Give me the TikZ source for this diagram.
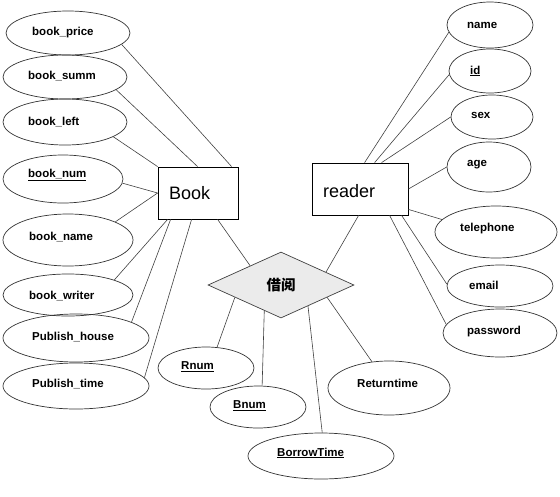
\documentclass[tikz,border=0pt]{standalone}
\usepackage{fontspec}
\setmainfont{Liberation Sans}
\newfontfamily\cjk{Noto Sans CJK SC}
\usetikzlibrary{shapes.geometric}
\tikzset{
  attr/.style={ellipse, draw=black!80, line width=0.7pt, inner sep=0pt},
  ent/.style={rectangle, draw=black, line width=0.8pt, inner sep=0pt},
  rel/.style={diamond, draw=black!75, fill=black!8, line width=0.7pt, inner sep=0pt},
  lbl/.style={anchor=west, inner sep=0pt, font=\fontsize{11.5}{13}\selectfont\bfseries},
  big/.style={anchor=west, inner sep=0pt, font=\fontsize{18}{20}\selectfont},
  conn/.style={draw=black!75, line width=0.6pt}
}
\begin{document}
\begin{tikzpicture}[x=1pt,y=-1pt]
\useasboundingbox (0,0) rectangle (560,496);
% entities
\node[ent, minimum width=80pt, minimum height=52pt] (book) at (198,193) {};
\node[big] (tbook) at (169,193) {Book};
\node[ent, minimum width=96pt, minimum height=52pt] (reader) at (360,189) {};
\node[big] (treader) at (323,191) {reader};
% relation
\node[rel, minimum width=146pt, minimum height=66pt] (dia) at (281,285) {\cjk\bfseries\fontsize{14.5}{16}\selectfont 借阅};
% Book attributes
\node[attr, minimum width=124pt, minimum height=44pt] (eprice) at (68,33) {};
\node[lbl] (tprice) at (32,33) {book\_price};
\node[attr, minimum width=124pt, minimum height=44pt] (esumm) at (65,77) {};
\node[lbl] (tsumm) at (28,76) {book\_summ};
\node[attr, minimum width=124pt, minimum height=46pt] (eleft) at (65,122) {};
\node[lbl] (tleft) at (28,122) {book\_left};
\node[attr, minimum width=120pt, minimum height=48pt] (enum) at (63,179) {};
\node[lbl] (tnum) at (28,175) {\underline{book\_num}};
\node[attr, minimum width=130pt, minimum height=52pt] (ename) at (68,240) {};
\node[lbl] (tname) at (29,237) {book\_name};
\node[attr, minimum width=130pt, minimum height=42pt] (ewriter) at (68,295) {};
\node[lbl] (twriter) at (29,296) {book\_writer};
\node[attr, minimum width=146pt, minimum height=48pt] (ehouse) at (76,338) {};
\node[lbl] (thouse) at (32,337) {Publish\_house};
\node[attr, minimum width=146pt, minimum height=46pt] (etime) at (76,386) {};
\node[lbl] (ttime) at (32,384) {Publish\_time};
% relation attributes
\node[attr, minimum width=96pt, minimum height=42pt] (ernum) at (206,368) {};
\node[lbl] (trnum) at (181,367) {\underline{Rnum}};
\node[attr, minimum width=96pt, minimum height=42pt] (ebnum) at (258,407) {};
\node[lbl] (tbnum) at (233,406) {\underline{Bnum}};
\node[attr, minimum width=146pt, minimum height=46pt] (eborrow) at (321,456) {};
\node[lbl] (tborrow) at (277,453) {\underline{BorrowTime}};
\node[attr, minimum width=122pt, minimum height=54pt] (ereturn) at (389,388) {};
\node[lbl] (treturn) at (357,383) {Returntime};
% reader attributes
\node[attr, minimum width=86pt, minimum height=46pt] (ername) at (490,25) {};
\node[lbl] (trname) at (467,25) {name};
\node[attr, minimum width=82pt, minimum height=44pt] (eid) at (490,71) {};
\node[lbl] (tid) at (470,71) {\underline{id}};
\node[attr, minimum width=82pt, minimum height=44pt] (esex) at (492,117) {};
\node[lbl] (tsex) at (471,115) {sex};
\node[attr, minimum width=84pt, minimum height=50pt] (eage) at (489,167) {};
\node[lbl] (tage) at (467,165) {age};
\node[attr, minimum width=122pt, minimum height=52pt] (etel) at (496,232) {};
\node[lbl] (ttel) at (460,229) {telephone};
\node[attr, minimum width=106pt, minimum height=42pt] (email) at (500,286) {};
\node[lbl] (tmail) at (469,285) {email};
\node[attr, minimum width=114pt, minimum height=48pt] (epass) at (500,333) {};
\node[lbl] (tpass) at (467,332) {password};
% connectors: Book
\draw[conn] (eprice.-12) -- ([xshift=74pt]book.north west);
\draw[conn] (esumm.-14) -- ([xshift=40pt]book.north west);
\draw[conn] (eleft.-17) -- (book.north west);
\draw[conn] (enum.-4) -- (book.west);
\draw[conn] (ename.21) -- (book.west);
\draw[conn] (ewriter.18) -- ([xshift=10pt]book.south west);
\draw[conn] (ehouse.16) -- ([xshift=13pt]book.south west);
\draw[conn] (etime.7) -- ([xshift=34pt]book.south west);
% connectors: reader
\draw[conn] (ername.190) -- ([xshift=53pt]reader.north west);
\draw[conn] (eid.185) -- ([xshift=63pt]reader.north west);
\draw[conn] (esex.180) -- ([xshift=70pt]reader.north west);
\draw[conn] (eage.180) -- (reader.east);
\draw[conn] (etel.167) -- ([yshift=6pt]reader.south east);
\draw[conn] (email.178) -- ([xshift=90pt]reader.south west);
\draw[conn] (epass.171) -- ([xshift=78pt]reader.south west);
% connectors: relation
\draw[conn] ([xshift=60pt]book.south west) -- (dia.148);
\draw[conn] ([xshift=47pt]reader.south west) -- (dia.16);
\draw[conn] (dia.195) -- (ernum.62);
\draw[conn] (dia.237) -- (ebnum.79);
\draw[conn] (dia.-38) -- (eborrow.87);
\draw[conn] (dia.-15) -- (ereturn.123);
\end{tikzpicture}
\end{document}
